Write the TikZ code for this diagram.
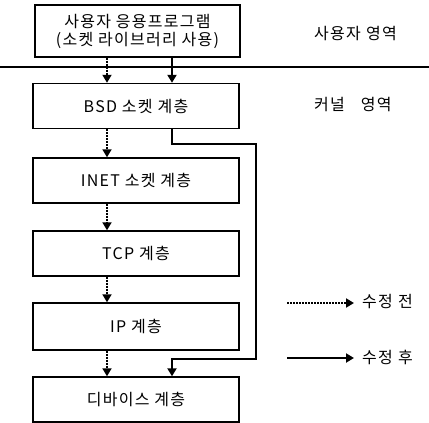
\documentclass[tikz,border=0pt]{standalone}
\usepackage{fontspec}
\setmainfont{Noto Sans CJK KR}
\usetikzlibrary{arrows.meta}
\newcommand{\lbfont}{\fontsize{16}{19}\selectfont\addfontfeature{LetterSpace=8}}
\begin{document}
\begin{tikzpicture}[x=1pt,y=-1pt,
  layer/.style={draw,line width=1.4pt,minimum width=206pt,minimum height=45pt,inner sep=0pt,font=\lbfont,align=center},
  dotarrow/.style={line width=1.8pt,dash pattern=on 1.8pt off 1.2pt,-{Triangle[width=9pt,length=8pt,sep=0pt]}},
  solidarrow/.style={line width=2.6pt,-{Triangle[width=9pt,length=8pt]}},
  label/.style={font=\lbfont,anchor=west,inner sep=0pt}]
\useasboundingbox (0,0) rectangle (429,423);
\node[layer,minimum height=52pt,minimum width=205pt] (app) at (137.5,31) {사용자 응용프로그램\\[-1pt](소켓 라이브러리 사용)};
\node[layer] (bsd) at (136,106) {BSD 소켓 계층};
\node[layer] (inet) at (136,180.5) {INET 소켓 계층};
\node[layer] (tcp) at (136,253.5) {TCP 계층};
\node[layer,minimum height=47pt] (ip) at (136,326.5) {IP 계층};
\node[layer] (dev) at (136,399.5) {디바이스 계층};
\coordinate (lL) at (0,67);
\coordinate (lR) at (429,67);
\draw[line width=1.4pt] (lL) -- (lR);
\node[label] (user) at (314,34) {사용자\,\,영역};
\node[label] (kern) at (314,105) {커널\hspace{16pt}영역};
\coordinate (dx) at (107,0);
\coordinate (sx) at (172,0);
\draw[dotarrow] (app.south -| dx) -- (bsd.north -| dx);
\draw[dotarrow] (bsd.south -| dx) -- (inet.north -| dx);
\draw[dotarrow] (inet.south -| dx) -- (tcp.north -| dx);
\draw[dotarrow] (tcp.south -| dx) -- (ip.north -| dx);
\draw[dotarrow] (ip.south -| dx) -- (dev.north -| dx);
\draw[solidarrow] (app.south -| sx) -- (bsd.north -| sx);
\coordinate (b1) at (172,144);
\coordinate (b2) at (256,144);
\coordinate (b3) at (256,359);
\coordinate (b4) at (172,359);
\draw[solidarrow,line join=miter] (bsd.south -| sx) -- (b1) -- (b2) -- (b3) -- (b4) -- (dev.north -| sx);
\coordinate (d1) at (287,303);
\coordinate (d2) at (354,303);
\coordinate (s1) at (287,358);
\coordinate (s2) at (354,358);
\draw[dotarrow] (d1) -- (d2);
\draw[solidarrow] (s1) -- (s2);
\node[label] (before) at (362,302) {수정\,\,전};
\node[label] (after) at (362,357) {수정\,\,후};
\end{tikzpicture}
\end{document}
